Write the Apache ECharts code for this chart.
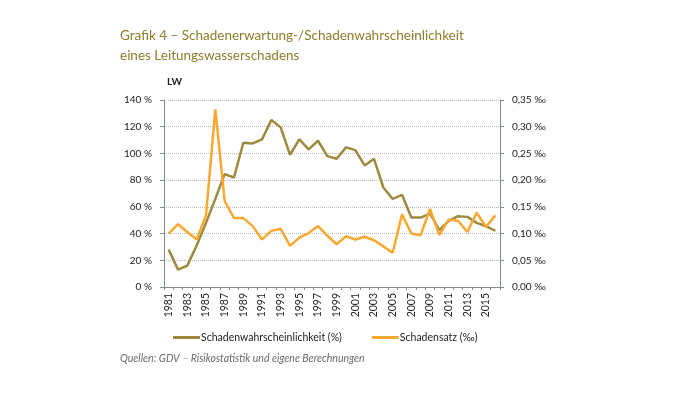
<!DOCTYPE html>
<html><head><meta charset="utf-8">
<script src="https://cdn.jsdelivr.net/npm/echarts@6/dist/echarts.min.js"></script>
<style>html,body{margin:0;padding:0;background:#fff}#c{width:674px;height:395px}</style>
</head><body><div id="c"></div>
<script>
const years = ['1981','1982','1983','1984','1985','1986','1987','1988','1989','1990','1991','1992','1993','1994','1995','1996','1997','1998','1999','2000','2001','2002','2003','2004','2005','2006','2007','2008','2009','2010','2011','2012','2013','2014','2015','2016'];
const wahrscheinlichkeit = [28,13,16,31,48,66,84.5,82,108,107.5,110.5,125,119.5,99,110.5,103,109.5,98,96,104.5,102.5,91,96,74.5,66,69,52,52,55,42.5,49.5,53,52.5,48,45.5,42];
const schadensatz = [0.100,0.1175,0.103,0.089,0.134,0.3325,0.161,0.129,0.129,0.114,0.089,0.105,0.109,0.077,0.0925,0.101,0.114,0.096,0.080,0.095,0.089,0.094,0.0875,0.076,0.064,0.136,0.100,0.097,0.146,0.097,0.126,0.124,0.103,0.139,0.1125,0.134];
const leftTicks = [0,20,40,60,80,100,120,140];
const rightTicks = [0,0.05,0.10,0.15,0.20,0.25,0.30,0.35];

const brown = '#9e8a3e', orange = '#f9a832', axisCol = '#7f8a93';
const chart = echarts.init(document.getElementById('c'));
chart.setOption({
  animation:false,
  textStyle:{fontFamily:'Lato'},
  title:[
    {text:'Grafik 4 – Schadenerwartung-/Schadenwahrscheinlichkeit\neines Leitungswasserschadens', left:115, top:21,
     textStyle:{fontFamily:'Lato', fontWeight:'normal', fontSize:13.5, color:'#8e7c2c', lineHeight:20}},
    {text:'LW', left:162, top:72, textStyle:{fontFamily:'Lato', fontWeight:'bold', fontSize:10, color:'#222'}},
    {text:'Quellen: GDV – Risikostatistik und eigene Berechnungen', left:115, top:348,
     textStyle:{fontFamily:'Lato', fontStyle:'italic', fontWeight:'normal', fontSize:10.5, color:'#6a6a6a'}}
  ],
  grid:{left:164, right:174, top:100, height:187},
  legend:{top:327, left:168, itemWidth:27, itemHeight:3, itemGap:30, icon:'rect',
    textStyle:{fontFamily:'Lato', fontSize:10.5, color:'#222', padding:[0,0,0,-4]},
    data:[{name:'Schadenwahrscheinlichkeit (%)'},{name:'Schadensatz (‰)'}]},
  xAxis:{type:'category', data:years, boundaryGap:true,
    axisLine:{lineStyle:{color:axisCol, width:1}},
    axisTick:{show:true, interval:0, length:3, lineStyle:{color:axisCol}},
    axisLabel:{rotate:90, interval:1, fontSize:10.5, color:'#222', margin:6, fontFamily:'Lato'}},
  yAxis:[
    {type:'value', min:0, max:140, interval:20, position:'left',
     axisLine:{show:true, lineStyle:{color:axisCol}},
     axisTick:{show:true, length:4, lineStyle:{color:axisCol}},
     axisLabel:{formatter:v=>v+' %', fontSize:10, color:'#222', margin:12},
     splitLine:{lineStyle:{type:'dotted', color:'#b8b8b8'}}},
    {type:'value', min:0, max:0.35, interval:0.05, position:'right',
     axisLine:{show:true, lineStyle:{color:axisCol}},
     axisTick:{show:true, length:4, lineStyle:{color:axisCol}},
     axisLabel:{formatter:v=>v.toFixed(2).replace('.',',')+' ‰', fontSize:10, color:'#222', margin:12},
     splitLine:{show:false}}
  ],
  series:[
    {name:'Schadenwahrscheinlichkeit (%)', type:'line', yAxisIndex:0, data:wahrscheinlichkeit,
     symbol:'none', lineStyle:{color:brown, width:2.5}, itemStyle:{color:brown}},
    {name:'Schadensatz (‰)', type:'line', yAxisIndex:1, data:schadensatz,
     symbol:'none', lineStyle:{color:orange, width:2.5}, itemStyle:{color:orange}}
  ]
});
</script></body></html>
